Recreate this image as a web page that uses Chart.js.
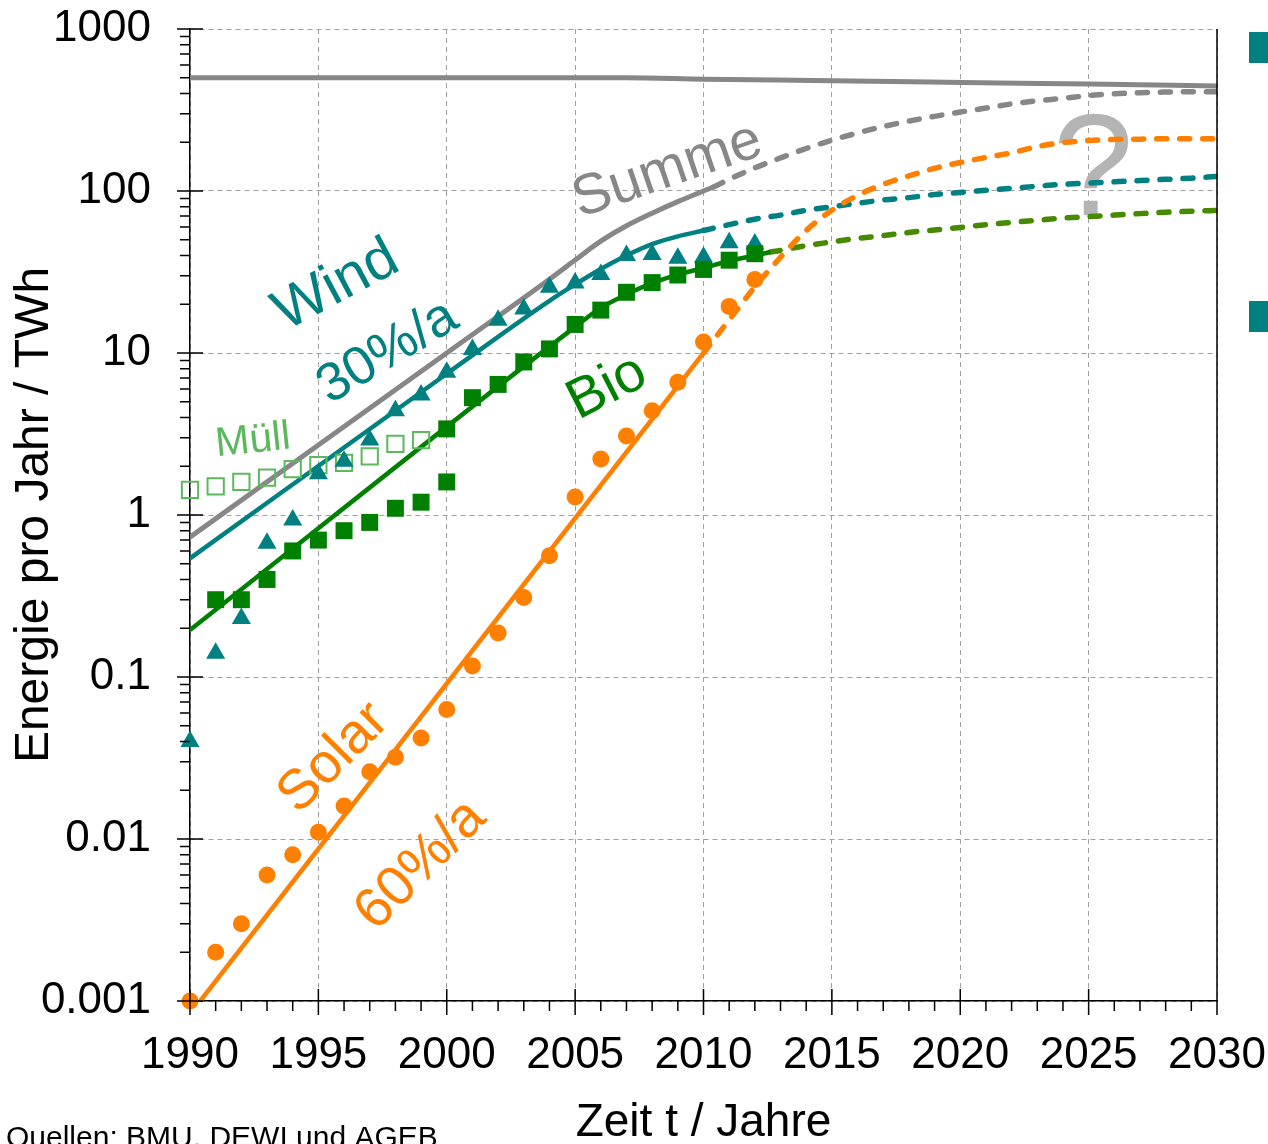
<!DOCTYPE html>
<html>
<head>
<meta charset="utf-8">
<script src="https://cdn.jsdelivr.net/npm/chart.js@4/dist/chart.umd.min.js"></script>
<style>
  html, body { margin: 0; padding: 0; background: #ffffff; }
  canvas { display: block; }
</style>
</head>
<body>
<canvas id="chart" width="1268" height="1144"></canvas>
<script>
const FONT = '"Liberation Sans", Arial, Helvetica, sans-serif';

// Measured yearly generation in TWh
const years = [1990, 1991, 1992, 1993, 1994, 1995, 1996, 1997, 1998, 1999, 2000,
               2001, 2002, 2003, 2004, 2005, 2006, 2007, 2008, 2009, 2010, 2011, 2012];
const windValues = [0.04, 0.14, 0.23, 0.67, 0.93, 1.8, 2.15, 2.9, 4.4, 5.5, 7.6,
                    10.5, 15.9, 18.7, 25.5, 27, 30.5, 40, 40.5, 38.5, 39, 48, 47];
const solarValues = [0.001, 0.002, 0.003, 0.006, 0.008, 0.011, 0.016, 0.026, 0.032, 0.042, 0.063,
                     0.117, 0.187, 0.31, 0.56, 1.29, 2.22, 3.07, 4.4, 6.6, 11.7, 19.4, 28.4];
const bioYears = [1991, 1992, 1993, 1994, 1995, 1996, 1997, 1998, 1999, 2000, 2000,
                  2001, 2002, 2003, 2004, 2005, 2006, 2007, 2008, 2009, 2010, 2011, 2012];
const bioValues = [0.30, 0.30, 0.40, 0.60, 0.70, 0.80, 0.90, 1.1, 1.2, 1.6, 3.4,
                   5.3, 6.4, 8.8, 10.6, 15.0, 18.4, 23.7, 27.2, 30.3, 32.8, 37.4, 41];
const muellYears = [1990, 1991, 1992, 1993, 1994, 1995, 1996, 1997, 1998, 1999];
const muellValues = [1.43, 1.5, 1.6, 1.7, 1.92, 2.03, 2.1, 2.3, 2.75, 2.9];

// Trend lines (solid) and outlook (dashed)
const primaryYears = [1990, 2007, 2010, 2015, 2021.5, 2025, 2030];
const primaryValues = [500, 500, 490, 480, 464, 458, 445];

const sumYears = [1990, 2000, 2004, 2005, 2006, 2007, 2008, 2009, 2010, 2010.4];
const sumValues = [0.73, 10, 28.5, 37.5, 49, 61, 73, 86, 100, 106];
const sumOutlookYears = [2010.4, 2011, 2012, 2013, 2014, 2015, 2016, 2017, 2018, 2019, 2020,
                         2021, 2022, 2023, 2024, 2025, 2026, 2027, 2028, 2029, 2030];
const sumOutlookValues = [106, 118, 139, 160, 183, 206, 228, 250, 270, 289, 307,
                          325, 345, 360, 373, 388, 398, 404, 408, 410, 410];

const windTrendYears = [1990, 2000, 2004, 2005, 2006, 2007, 2008, 2009, 2010];
const windTrendValues = [0.54, 7.45, 21, 26.5, 33, 40, 47, 52.5, 57];
const windOutlookYears = [2010, 2011, 2012, 2013, 2014, 2015, 2016, 2017, 2018, 2019, 2020,
                          2021, 2022, 2023, 2024, 2025, 2026, 2027, 2028, 2029, 2030];
const windOutlookValues = [57, 62, 67, 71, 76, 80, 84, 88, 91, 95, 98,
                           101, 104, 107, 110, 112, 114, 116, 118, 120, 123];

const bioTrendYears = [1990, 2005, 2006, 2007, 2008, 2009, 2010, 2011, 2012, 2012.6];
const bioTrendValues = [0.195, 14.5, 19, 23, 27, 30.5, 33.5, 37, 40, 42];
const bioOutlookYears = [2012.6, 2013, 2014, 2015, 2016, 2017, 2018, 2019, 2020,
                         2021, 2022, 2023, 2024, 2025, 2026, 2027, 2028, 2029, 2030];
const bioOutlookValues = [42, 43, 46, 48.5, 51, 53, 55.5, 57.5, 59.5,
                          62, 64, 66, 68, 69.5, 71, 72.5, 74, 75, 76];

const solarTrendYears = [1990.4, 2010];
const solarTrendValues = [0.001, 10];
const solarOutlookYears = [2010, 2011, 2012, 2013, 2014, 2015, 2016, 2017, 2018, 2019, 2020,
                           2021, 2022, 2023, 2024, 2025, 2026, 2027, 2028, 2029, 2030];
const solarOutlookValues = [10, 16, 25.6, 39, 57, 76, 94, 110, 124, 138, 150,
                            161, 172, 188, 199, 205, 208, 209, 210, 210, 210];

// Axis ticks
const yTickValues = [0.001, 0.01, 0.1, 1, 10, 100, 1000];
const yTickLabels = ['0.001', '0.01', '0.1', '1', '10', '100', '1000'];
const xTickStep = 5;

const COLORS = {
  grey: '#878787',
  teal: '#008080',
  green: '#008000',
  olive: '#468a00',
  orange: '#ff8000',
  muell: '#5cb85c',
  question: '#b4b4b4'
};

const pts = (xs, ys) => xs.map((x, i) => ({ x: x, y: ys[i] }));

function trend(data, color, width, dashed) {
  return {
    data: data,
    showLine: true,
    pointRadius: 0,
    pointHoverRadius: 0,
    borderColor: color,
    borderWidth: width,
    borderDash: dashed ? [10, 13] : [],
    borderCapStyle: dashed ? 'round' : 'butt',
    borderJoinStyle: 'round',
    cubicInterpolationMode: 'monotone',
    fill: false
  };
}

function markers(data, style, radius, fill, stroke, strokeWidth) {
  return {
    data: data,
    showLine: false,
    pointStyle: style,
    pointRadius: radius,
    pointHoverRadius: radius,
    pointBackgroundColor: fill,
    pointBorderColor: stroke,
    pointBorderWidth: strokeWidth,
    clip: false
  };
}

// Free text labels, placed in data coordinates
const annotations = [
  { text: 'Summe', x: 2008.6, y: 133, angle: -19, size: 57, color: COLORS.grey },
  { text: 'Wind', x: 1995.7, y: 25.9, angle: -28, size: 58, color: COLORS.teal },
  { text: '30%/a', x: 1997.7, y: 10.1, angle: -31, size: 54, color: COLORS.teal },
  { text: 'Bio', x: 2006.25, y: 6.1, angle: -27, size: 56, color: COLORS.green },
  { text: 'Müll', x: 1992.45, y: 2.86, angle: -6, size: 41, color: COLORS.muell },
  { text: 'Solar', x: 1995.6, y: 0.0316, angle: -45, size: 56, color: COLORS.orange },
  { text: '60%/a', x: 1999.0, y: 0.0069, angle: -45, size: 56, color: COLORS.orange }
];

const questionMark = { text: '?', x: 2025.17, y: 71, size: 145, color: COLORS.question };

const backdrop = {
  id: 'backdrop',
  beforeDatasetsDraw(chart) {
    const { ctx, scales: { x, y } } = chart;
    ctx.save();
    ctx.fillStyle = questionMark.color;
    ctx.font = questionMark.size + 'px ' + FONT;
    ctx.textAlign = 'center';
    ctx.textBaseline = 'alphabetic';
    ctx.fillText(questionMark.text, x.getPixelForValue(questionMark.x), y.getPixelForValue(questionMark.y));
    ctx.restore();
  }
};

const overlay = {
  id: 'overlay',
  afterDraw(chart) {
    const { ctx, chartArea: a, scales: { x, y } } = chart;
    ctx.save();

    // axis tick marks: long ones on the decades / five-year steps, short ones in between
    ctx.strokeStyle = '#000000';
    ctx.lineWidth = 1.5;
    ctx.beginPath();
    for (let yr = x.min; yr <= x.max; yr++) {
      const px = x.getPixelForValue(yr);
      if (yr % xTickStep === 0) {
        ctx.moveTo(px, a.bottom - 12);
        ctx.lineTo(px, a.bottom + 14);
      } else {
        ctx.moveTo(px, a.bottom);
        ctx.lineTo(px, a.bottom + 10);
      }
    }
    yTickValues.forEach((decade, i) => {
      for (let m = 1; m <= 9; m++) {
        if (m > 1 && i === yTickValues.length - 1) break;
        const py = y.getPixelForValue(decade * m);
        if (m === 1) {
          ctx.moveTo(a.left - 13, py);
          ctx.lineTo(a.left + 13, py);
        } else {
          ctx.moveTo(a.left - 10, py);
          ctx.lineTo(a.left, py);
        }
      }
    });
    // right frame edge
    ctx.moveTo(a.right, a.top);
    ctx.lineTo(a.right, a.bottom + 14);
    ctx.stroke();

    // series labels
    annotations.forEach(l => {
      ctx.save();
      ctx.translate(x.getPixelForValue(l.x), y.getPixelForValue(l.y));
      ctx.rotate(l.angle * Math.PI / 180);
      ctx.fillStyle = l.color;
      ctx.font = l.size + 'px ' + FONT;
      ctx.textAlign = 'center';
      ctx.textBaseline = 'middle';
      ctx.fillText(l.text, 0, 0);
      ctx.restore();
    });

    // bullet blocks at the right edge
    ctx.fillStyle = COLORS.teal;
    ctx.fillRect(1249, 32, 19, 31);
    ctx.fillRect(1249, 301, 19, 31);

    // source note
    ctx.fillStyle = '#000000';
    ctx.font = '30px ' + FONT;
    ctx.textAlign = 'left';
    ctx.textBaseline = 'alphabetic';
    ctx.fillText('Quellen: BMU, DEWI und AGEB', 6, 1147);

    ctx.restore();
  }
};

// keep the plot frame fixed: axis boxes have set sizes and add no edge padding
function fixBox(size) {
  return function (scale) {
    if (scale.isHorizontal()) scale.height = size; else scale.width = size;
    scale.paddingTop = 0;
    scale.paddingBottom = 0;
    scale.paddingLeft = 0;
    scale.paddingRight = 0;
  };
}

new Chart(document.getElementById('chart'), {
  type: 'scatter',
  data: {
    datasets: [
      markers(pts(bioYears, bioValues), 'rect', 12, COLORS.green, COLORS.green, 0),
      markers(pts(years, windValues), 'triangle', 11, COLORS.teal, COLORS.teal, 0),
      markers(pts(muellYears, muellValues), 'rect', 11.5, 'rgba(0,0,0,0)', COLORS.muell, 2),
      markers(pts(years, solarValues), 'circle', 8.5, COLORS.orange, COLORS.orange, 0),
      trend(pts(solarTrendYears, solarTrendValues), COLORS.orange, 4.5, false),
      trend(pts(solarOutlookYears, solarOutlookValues), COLORS.orange, 5.5, true),
      trend(pts(bioTrendYears, bioTrendValues), COLORS.green, 4.5, false),
      trend(pts(bioOutlookYears, bioOutlookValues), COLORS.olive, 5.5, true),
      trend(pts(windTrendYears, windTrendValues), COLORS.teal, 4.5, false),
      trend(pts(windOutlookYears, windOutlookValues), COLORS.teal, 5.5, true),
      trend(pts(sumYears, sumValues), COLORS.grey, 5, false),
      trend(pts(sumOutlookYears, sumOutlookValues), COLORS.grey, 5.5, true),
      trend(pts(primaryYears, primaryValues), COLORS.grey, 5, false)
    ]
  },
  options: {
    responsive: false,
    animation: false,
    devicePixelRatio: 1,
    layout: { padding: { top: 29, right: 51, left: 0, bottom: 0 } },
    plugins: {
      legend: { display: false },
      tooltip: { enabled: false }
    },
    events: [],
    scales: {
      x: {
        type: 'linear',
        min: 1990,
        max: 2030,
        afterFit: fixBox(143),
        ticks: {
          stepSize: xTickStep,
          autoSkip: false,
          maxRotation: 0,
          padding: 28,
          color: '#000000',
          font: { family: FONT, size: 44 },
          callback: v => String(v)
        },
        grid: { color: '#a0a0a0', lineWidth: 1, drawTicks: false },
        border: { display: true, color: '#000000', width: 1.5, dash: [5, 4] },
        title: {
          display: true,
          text: 'Zeit t / Jahre',
          color: '#000000',
          font: { family: FONT, size: 46, lineHeight: 0.8 },
          padding: { top: 0, bottom: 2 }
        }
      },
      y: {
        type: 'logarithmic',
        min: 0.001,
        max: 1000,
        afterBuildTicks(scale) { scale.ticks = yTickValues.map(v => ({ value: v, major: true })); },
        afterFit: fixBox(190),
        ticks: {
          autoSkip: false,
          padding: 39,
          color: '#000000',
          font: { family: FONT, size: 44 },
          callback: v => yTickLabels[yTickValues.indexOf(v)]
        },
        grid: { color: '#a0a0a0', lineWidth: 1, drawTicks: false },
        border: { display: true, color: '#000000', width: 1.5, dash: [5, 4] },
        title: {
          display: true,
          text: 'Energie pro Jahr / TWh',
          color: '#000000',
          font: { family: FONT, size: 48 },
          padding: { top: 6, bottom: 0 }
        }
      }
    }
  },
  plugins: [backdrop, overlay]
});
</script>
</body>
</html>
